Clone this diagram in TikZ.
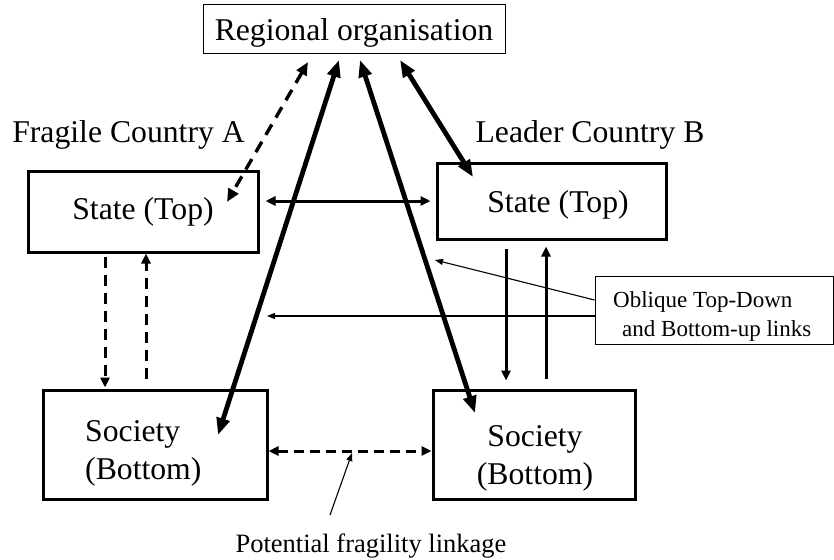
\documentclass[tikz,border=0pt]{standalone}
\usepackage{fontspec}
\setmainfont{Liberation Serif}
\usetikzlibrary{arrows.meta}
\begin{document}
\begin{tikzpicture}[x=1pt,y=-1pt,
  big/.style={font=\fontsize{31.7}{38}\selectfont},
  thickbox/.style={draw,line width=3pt,inner sep=0pt},
  thinbox/.style={draw,line width=1pt,inner sep=0pt},
  heavy/.style={line width=4.8pt,{Triangle[length=17pt,width=13pt]}-{Triangle[length=17pt,width=13pt]}},
  heavydash/.style={line width=3.4pt,dash pattern=on 12pt off 8pt,{Triangle[length=13pt,width=11pt]}-{Triangle[length=13pt,width=11pt]}},
  medium/.style={line width=3pt,-{Triangle[length=10pt,width=9pt]}},
  mediumdash/.style={line width=3pt,dash pattern=on 11pt off 7pt,-{Triangle[length=10pt,width=9pt]}},
  pointer/.style={line width=1.1pt,-{Triangle[length=8pt,width=6pt]}}
]
\useasboundingbox (0,0) rectangle (834,559);
\fill[white] (0,0) rectangle (834,559);

% boxes
\node[thinbox,minimum width=302pt,minimum height=49pt] (reg) at (354,29.5) {};
\node[big] (regt) at (354,33) {Regional organisation};
\node[thickbox,minimum width=230pt,minimum height=81pt,big] (stateA) at (143,211.5) {State (Top)};
\node[thickbox,minimum width=229pt,minimum height=76pt] (stateB) at (551.5,201) {};
\node[big] (stateBt) at (558,205) {State (Top)};
\node[thickbox,minimum width=224pt,minimum height=109pt] (socA) at (155,444.5) {};
\node[big,align=left,anchor=west,inner sep=0pt] (socAt) at (85,453) {Society\\(Bottom)};
\node[thickbox,minimum width=202pt,minimum height=109pt] (socB) at (534,444.5) {};
\node[big,align=center,inner sep=0pt] (socBt) at (535,458) {Society\\(Bottom)};
\node[thinbox,minimum width=238pt,minimum height=68pt] (obl) at (714,310) {};
\node[font=\fontsize{23}{29}\selectfont,align=left,anchor=west,inner sep=0pt] (oblt) at (613,316) {Oblique Top-Down\\\hspace*{9pt}and Bottom-up links};

% labels
\node[big,inner sep=0pt] (labA) at (128.5,135) {Fragile Country A};
\node[big,inner sep=0pt] (labB) at (590,135) {Leader Country B};
\node[font=\fontsize{26.5}{32}\selectfont,inner sep=0pt] (pfl) at (371,546) {Potential fragility linkage};

% free ends
\coordinate (r1) at (339,60);
\coordinate (r2) at (360,60);
\coordinate (r3) at (400,60);
\coordinate (r4) at (308,62);
\coordinate (sa) at (218,435);
\coordinate (sb) at (475,413);
\coordinate (tb) at (473,177);
\coordinate (ta) at (227,202);
\coordinate (p1) at (435,260);
\coordinate (p2) at (267,316);
\coordinate (q1) at (330,515);
\coordinate (q2) at (352,453);

% heavy links to regional organisation
\draw[heavy] (r1) -- (sa);
\draw[heavy] (r2) -- (sb);
\draw[heavy] (r3) -- (tb);
\draw[heavydash] (r4) -- (ta);

% state-state
\draw[line width=3pt,{Triangle[length=10pt,width=9pt]}-{Triangle[length=10pt,width=9pt]},shorten <=6pt,shorten >=5pt]
  (stateA.east |- stateB.west) -- (stateB.west);

% country A verticals (dashed)
\draw[mediumdash] ([xshift=-38pt,yshift=-3pt]stateA.south) -- ([xshift=-50pt,yshift=1pt]socA.north);
\draw[mediumdash] ([xshift=-9pt,yshift=10pt]socA.north) -- ([xshift=3pt]stateA.south);

% country B verticals (solid)
\draw[medium] ([xshift=-45.5pt,yshift=-8pt]stateB.south) -- ([xshift=-28pt,yshift=8pt]socB.north);
\draw[medium] ([xshift=12pt,yshift=10pt]socB.north) -- ([xshift=-5.5pt,yshift=-6pt]stateB.south);

% society-society dashed
\draw[line width=3pt,dash pattern=on 10pt off 6pt,{Triangle[length=10pt,width=9pt]}-{Triangle[length=10pt,width=9pt]}]
  ([yshift=-6.5pt]socA.east) -- ([yshift=-6.5pt]socB.west);

% pointers
\draw[pointer] ([yshift=10pt]obl.west) -- (p1);
\draw[pointer] ([yshift=-6pt]obl.west) -- (p2);
\draw[pointer] (q1) -- (q2);
\end{tikzpicture}
\end{document}
